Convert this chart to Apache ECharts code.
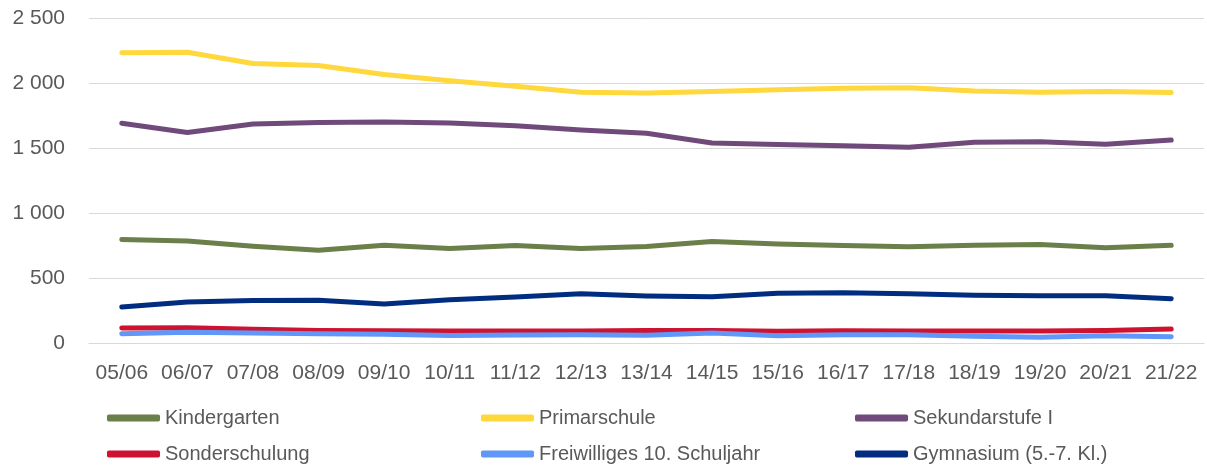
<!DOCTYPE html>
<html>
<head>
<meta charset="utf-8">
<script src="https://cdn.jsdelivr.net/npm/echarts@6/dist/echarts.min.js"></script>
<style>
  html, body { margin: 0; padding: 0; background: #fff; }
  #chart { width: 1207px; height: 465px; }
</style>
</head>
<body>
<div id="chart"></div>
<script>
// Schuljahre
const years = ['05/06', '06/07', '07/08', '08/09', '09/10', '10/11', '11/12', '12/13', '13/14',
  '14/15', '15/16', '16/17', '17/18', '18/19', '19/20', '20/21', '21/22'];

const kindergarten = [797, 785, 744, 713, 752, 726, 750, 726, 742, 780, 762, 750, 740, 752, 757, 733, 752];
const primarschule = [2232, 2237, 2150, 2135, 2066, 2018, 1975, 1929, 1923, 1934, 1949, 1959, 1964, 1939, 1929, 1934, 1926];
const sekundarstufe = [1691, 1620, 1684, 1696, 1700, 1692, 1671, 1638, 1614, 1538, 1526, 1518, 1505, 1545, 1548, 1528, 1561];
const sonderschulung = [115, 118, 105, 97, 95, 92, 92, 92, 97, 97, 90, 95, 92, 92, 92, 97, 107];
const freiwilliges = [72, 82, 77, 72, 67, 58, 62, 64, 59, 77, 56, 64, 64, 51, 44, 56, 49];
const gymnasium = [277, 315, 326, 328, 300, 333, 354, 379, 362, 356, 382, 387, 379, 367, 364, 364, 341];

const yTicks = { min: 0, max: 2500, step: 500 };

const seriesDefs = [
  { name: 'Kindergarten', data: kindergarten, color: '#6a7f4a' },
  { name: 'Primarschule', data: primarschule, color: '#ffd83d' },
  { name: 'Sekundarstufe I', data: sekundarstufe, color: '#6f4a7b' },
  { name: 'Sonderschulung', data: sonderschulung, color: '#cd1330' },
  { name: 'Freiwilliges 10. Schuljahr', data: freiwilliges, color: '#6197f8' },
  { name: 'Gymnasium (5.-7. Kl.)', data: gymnasium, color: '#002d80' }
];

const chart = echarts.init(document.getElementById('chart'));

const option = {
  animation: false,
  grid: { left: 89, right: 3, top: 18, bottom: 122 },
  xAxis: {
    type: 'category',
    data: years,
    boundaryGap: true,
    axisLine: { show: true, lineStyle: { color: '#d9d9d9', width: 1 } },
    axisTick: { show: false },
    axisLabel: {
      interval: 0,
      color: '#595959',
      fontFamily: 'Liberation Sans',
      fontSize: 21,
      margin: 20
    }
  },
  yAxis: {
    type: 'value',
    min: yTicks.min,
    max: yTicks.max,
    interval: yTicks.step,
    axisLine: { show: false },
    axisTick: { show: false },
    splitLine: { lineStyle: { color: '#d9d9d9', width: 1 } },
    axisLabel: {
      color: '#595959',
      fontFamily: 'Liberation Sans',
      fontSize: 21,
      margin: 24,
      formatter: function (v) {
        return String(v).replace(/\B(?=(\d{3})+(?!\d))/g, ' ');
      }
    }
  },
  legend: {
    left: 102,
    top: 400,
    width: 1130,
    orient: 'horizontal',
    itemWidth: 53,
    itemHeight: 7,
    itemGap: 10,
    icon: 'roundRect',
    data: seriesDefs.map(s => s.name),
    textStyle: {
      color: '#595959',
      fontFamily: 'Liberation Sans',
      fontSize: 20,
      width: 306,
      lineHeight: 26
    }
  },
  series: seriesDefs.map(s => ({
    name: s.name,
    type: 'line',
    data: s.data,
    symbol: 'none',
    color: s.color,
    lineStyle: { width: 5, color: s.color, cap: 'round', join: 'round' }
  }))
};

chart.setOption(option);
</script>
</body>
</html>
